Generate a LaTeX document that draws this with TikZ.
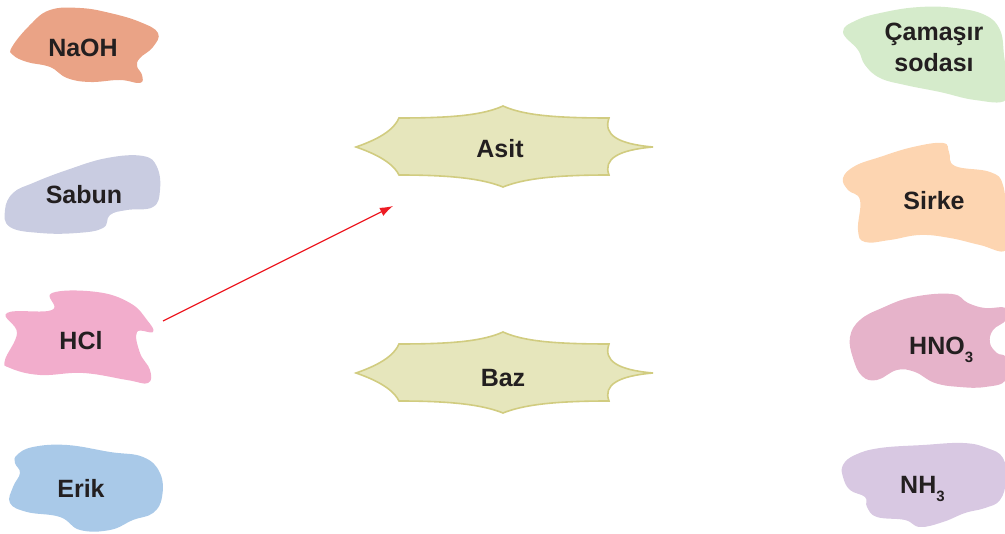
\documentclass[tikz,border=0pt]{standalone}
\usepackage{fontspec}
\setsansfont{Liberation Sans}
\usepackage{tikz}
\usetikzlibrary{arrows.meta,positioning}
\definecolor{txt}{HTML}{231F20}
\definecolor{naoh}{HTML}{EAA386}
\definecolor{sabun}{HTML}{C9CCE1}
\definecolor{hcl}{HTML}{F2ADCC}
\definecolor{erik}{HTML}{A9C9E8}
\definecolor{soda}{HTML}{D5EBCB}
\definecolor{sirke}{HTML}{FDD5B1}
\definecolor{hno}{HTML}{E6B3CA}
\definecolor{nh}{HTML}{D8C8E2}
\definecolor{starfill}{HTML}{E6E6BC}
\definecolor{starline}{HTML}{D1CC80}
\definecolor{arrred}{HTML}{ED1C24}
\newcommand{\lowidx}[1]{\raisebox{-8pt}{\fontsize{15}{15}\selectfont #1}}

\begin{document}
\begin{tikzpicture}[x=1pt,y=-1pt,
  font=\sffamily\bfseries\fontsize{25}{31}\selectfont,
  lbl/.style={text=txt,align=center,inner sep=0pt},
  blob/.style={smooth cycle,tension=0.7},
  starbox/.pic={
    \draw[fill=starfill,draw=starline,line width=1.6pt]
      (-147,0) .. controls (-118,-10) and (-108,-20) .. (-104,-29)
      .. controls (-50,-29) and (-20,-32) .. (0,-41)
      .. controls (20,-32) and (50,-29) .. (106,-29)
      .. controls (100,-12) and (115,-3) .. (150,0)
      .. controls (115,3) and (100,12) .. (106,28)
      .. controls (50,28) and (20,32) .. (0,40)
      .. controls (-20,32) and (-50,28) .. (-104,28)
      .. controls (-108,20) and (-118,10) .. cycle;},
  arr/.style={-{Latex[length=13pt,width=9pt]},line width=1.2pt,arrred}]
\useasboundingbox (0,0) rectangle (1005,534);

% left column
\fill[naoh] plot[blob] coordinates {(12,47) (30,25) (50,10) (80,8) (110,13) (140,22) (158,33)
  (153,47) (140,58) (137,66) (142,75) (140,83) (120,80) (90,82) (67,78) (50,67) (27,62) (13,55)};
\node[lbl] (naohtxt) at (83,48) {NaOH};

\fill[sabun] plot[blob] coordinates {(5,210) (13,193) (33,183) (67,170) (107,158) (143,156)
  (157,167) (160,190) (153,207) (127,210) (110,215) (103,228) (77,233) (40,233) (10,227)};
\node[lbl] (sabuntxt) at (84,195) {Sabun};

\fill[hcl] plot[blob] coordinates {(7,313) (52,310) (52,293) (97,292) (130,303) (147,320)
  (153,332) (137,332) (140,353) (150,370) (148,383) (127,380) (83,373) (40,375) (10,368)
  (5,360) (17,333)};
\node[lbl] (hcltxt) at (81,341) {HCl};

\fill[erik] plot[blob] coordinates {(17,455) (33,447) (67,445) (110,452) (143,457) (160,473)
  (162,497) (153,513) (133,520) (110,530) (80,530) (60,517) (27,512) (10,503) (13,487)
  (20,473) (15,463)};
\node[lbl] (eriktxt) at (81,488) {Erik};

% middle
\pic (asit) at (503,147) {starbox};
\node[lbl] (asittxt) at (500,149) {Asit};
\pic (baz) at (503,373) {starbox};
\node[lbl] (baztxt) at (503,378) {Baz};

% right column
\fill[soda] plot[blob] coordinates {(843,32) (857,20) (885,12) (920,7) (955,8) (985,15)
  (1000,30) (1004,55) (1006,75) (1006,100) (975,100) (940,92) (905,85) (880,78) (865,65)
  (858,50)};
\node[lbl] (sodatxt) at (934,47) {Çamaşır\\sodası};

\fill[sirke] plot[blob] coordinates {(843,178) (855,166) (880,157) (913,147) (943,143)
  (949,152) (955,166) (990,172) (1003,185) (1006,220) (1006,250) (980,245) (950,238)
  (920,235) (890,240) (865,242) (858,230) (860,200) (848,190)};
\node[lbl] (sirketxt) at (934,201) {Sirke};

\fill[hno] plot[blob] coordinates {(850,337) (860,320) (882,308) (913,297) (952,294)
  (968,303) (985,308) (1006,308) (1006,320) (993,330) (990,343) (997,353) (1006,358)
  (1006,380) (985,387) (960,387) (935,383) (915,372) (897,370) (877,380) (862,376)
  (853,358)};
\node[lbl,anchor=base west] (hnotxt) at (909,355) {HNO\lowidx{3}};

\fill[nh] plot[blob] coordinates {(843,465) (855,455) (880,448) (923,445) (963,443)
  (987,448) (1003,458) (1006,480) (1000,500) (985,508) (965,513) (943,522) (920,527)
  (905,520) (877,517) (867,507) (865,497) (850,490) (843,477)};
\node[lbl,anchor=base west] (nhtxt) at (900,494) {NH\lowidx{3}};

% connector
\coordinate (hclout) at (163,321);
\coordinate (asitin) at (393,206);
\draw[arr] (hclout) -- (asitin);
\end{tikzpicture}
\end{document}
